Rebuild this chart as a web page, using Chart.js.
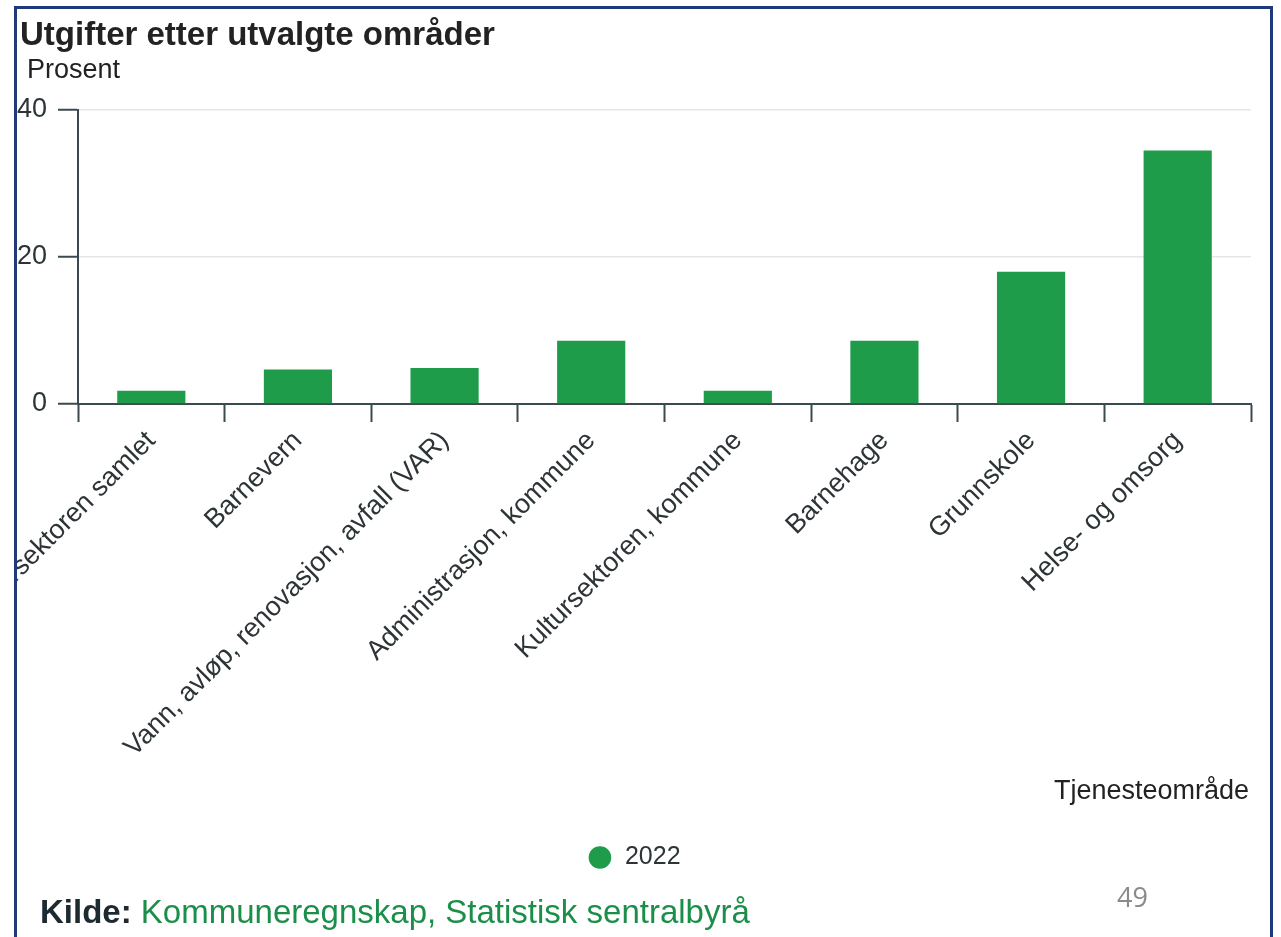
<!DOCTYPE html>
<html>
<head>
<meta charset="utf-8">
<script src="https://cdn.jsdelivr.net/npm/chart.js@4"></script>
<style>
  html, body { margin: 0; padding: 0; background: #fff; width: 1281px; height: 937px; overflow: hidden; }
  #frame { position: absolute; left: 14px; top: 6px; width: 1253px; height: 940px; border: 3px solid #1f3a7a; border-bottom: none; }
  #chart { position: absolute; left: 0; top: 0; }
</style>
</head>
<body>
<div id="frame">
  <canvas id="chart" width="1253" height="928"></canvas>
</div>
<script>
const categories = [
  'Kultursektoren samlet',
  'Barnevern',
  'Vann, avløp, renovasjon, avfall (VAR)',
  'Administrasjon, kommune',
  'Kultursektoren, kommune',
  'Barnehage',
  'Grunnskole',
  'Helse- og omsorg'
];
const values2022 = [1.8, 4.7, 4.9, 8.6, 1.8, 8.6, 18.0, 34.5];
const seriesLabel = '2022';
const yMin = 0;
const yMax = 40;
const yStep = 20;

const FONT = '"Liberation Sans", Arial, sans-serif';
const axisColor = '#3b4a4f';
const textColor = '#2d3436';
const green = '#1f9c4a';

// titles, axis caption and source line
const textPlugin = {
  id: 'texts',
  afterDraw(chart) {
    const ctx = chart.ctx;
    ctx.save();
    ctx.textBaseline = 'alphabetic';
    ctx.fillStyle = '#222';
    ctx.textAlign = 'left';
    ctx.font = 'bold 33px ' + FONT;
    ctx.fillText('Utgifter etter utvalgte områder', 3, 36);
    ctx.font = '27px ' + FONT;
    ctx.fillText('Prosent', 10, 69);

    ctx.textAlign = 'right';
    ctx.fillText('Tjenesteområde', 1232, 790);

    ctx.textAlign = 'left';
    ctx.font = 'bold 33px ' + FONT;
    ctx.fillStyle = '#1d2a30';
    ctx.fillText('Kilde:', 23, 914);
    const w = ctx.measureText('Kilde: ').width;
    ctx.font = '33px ' + FONT;
    ctx.fillStyle = '#1b8f4a';
    ctx.fillText('Kommuneregnskap, Statistisk sentralbyrå', 23 + w, 914);

    ctx.font = '27px "Open Sans", sans-serif';
    ctx.fillStyle = '#8a8a8a';
    ctx.fillText('49', 1100, 898);
    ctx.restore();
  }
};

new Chart(document.getElementById('chart'), {
  type: 'bar',
  data: {
    labels: categories,
    datasets: [{
      label: seriesLabel,
      data: values2022,
      backgroundColor: green,
      borderWidth: 0,
      categoryPercentage: 1,
      barPercentage: 0.465
    }]
  },
  options: {
    responsive: false,
    animation: false,
    layout: { padding: { left: 0, right: 19, top: 101, bottom: 57 } },
    plugins: {
      tooltip: { enabled: false },
      legend: {
        position: 'bottom',
        labels: {
          usePointStyle: true,
          pointStyle: 'circle',
          boxWidth: 25,
          boxHeight: 16,
          padding: 10,
          color: textColor,
          font: { family: FONT, size: 25 }
        }
      }
    },
    scales: {
      x: {
        afterFit(scale) {
          scale.height = 431;
          scale.paddingLeft = 0;
          scale.paddingRight = 0;
        },
        grid: {
          offset: true,
          drawOnChartArea: false,
          tickLength: 18,
          tickColor: axisColor,
          tickWidth: 2
        },
        border: { display: true, color: axisColor, width: 2 },
        ticks: {
          autoSkip: false,
          minRotation: 45,
          maxRotation: 45,
          padding: 3,
          color: textColor,
          font: { family: FONT, size: 27 }
        }
      },
      y: {
        min: yMin,
        max: yMax,
        afterFit(scale) {
          scale.width = 61;
        },
        grid: {
          color: '#e6e6e6',
          lineWidth: 1.5,
          tickLength: 20,
          tickColor: axisColor,
          tickWidth: 2
        },
        border: { display: true, color: axisColor, width: 2 },
        ticks: {
          stepSize: yStep,
          padding: 11,
          color: textColor,
          font: { family: FONT, size: 27 }
        }
      }
    }
  },
  plugins: [textPlugin]
});
</script>
</body>
</html>
